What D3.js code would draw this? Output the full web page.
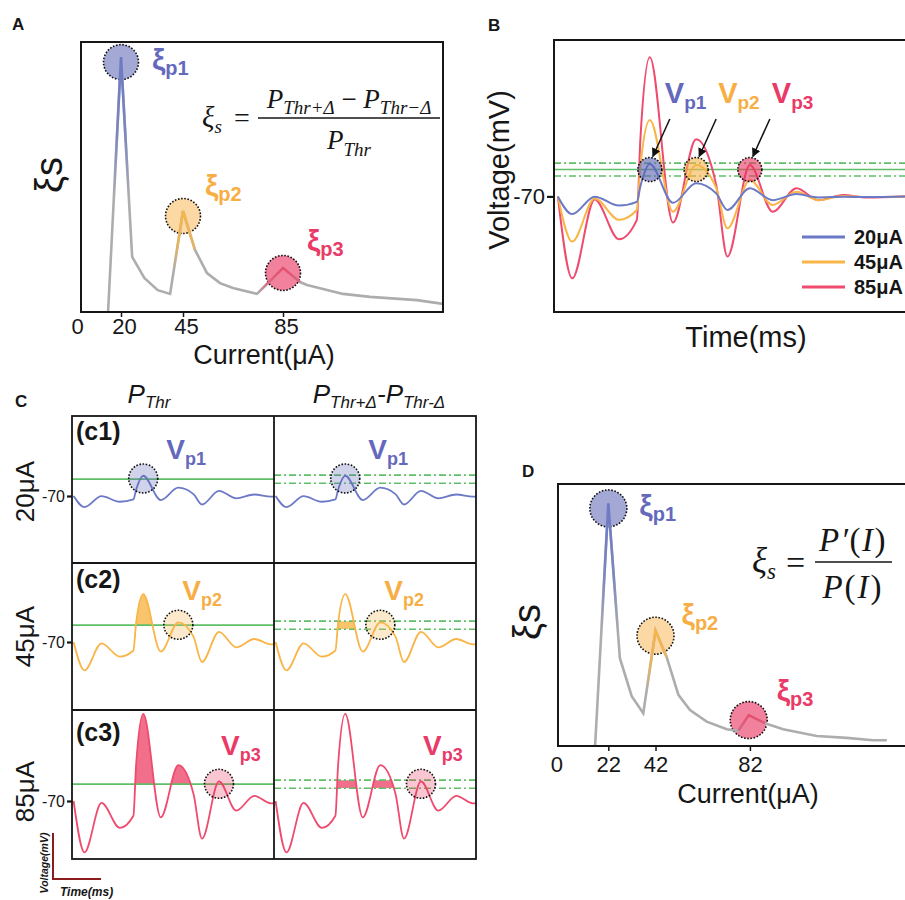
<!DOCTYPE html>
<html><head><meta charset="utf-8">
<script src="https://cdn.jsdelivr.net/npm/d3@7"></script>
<style>body{margin:0;background:#fff}svg{display:block}</style>
</head><body><svg id="fig" width="905" height="900"></svg>
<script>
// ---------------- data ----------------
const aCurrent = [14.5,20,24.5,29.4,34.8,39.8,45,49.8,54.6,59.8,65,74.6,85,91.8,94.6,109,119.8,138.6,149];
const aXi      = [0,94.4,20.4,12.6,8.1,6.7,37.4,23,14.4,10.7,8.9,6.7,16.3,11.1,10,6.7,5.6,4.4,3];
const aPeakIdx = [1,6,12];
const aTicks   = [0,20,45,85];

const dCurrent = [16.4,22,26.9,31.9,36.8,42,46.7,51.7,56.6,63.7,72.2,77.1,81.5,88.4,96.1,110.3,123,134.3,140];
const dXi      = [0,92.6,33.5,19,12.5,44,34,19.5,13.7,9.3,6.4,5.8,11.8,8.7,6.4,3.8,3.1,2.2,2.2];
const dPeakIdx = [1,5,12];
const dTicks   = [0,22,42,82];

const bTime = [1.1,5.2,11.6,18.5,23.6,24.6,27.3,33.9,40.5,46.2,49.4,55.8,62.3,69.1,75.3,82.4,89.1,100];
const v20   = [-70,-75.2,-70.1,-72.7,-71.6,-67.1,-60.5,-71.9,-66.1,-69.1,-74,-67.6,-71.1,-69.3,-70.3,-70.1,-70.2,-70];
const v45   = [-70,-83.3,-70.6,-76.9,-74,-61.3,-47.5,-74.5,-60.8,-67.5,-79.4,-65.2,-72.5,-68.6,-71.1,-69.9,-70.2,-70];
const v85   = [-70,-94.1,-70.9,-82.6,-76.9,-53.4,-29.1,-77.7,-53.2,-66.6,-87.7,-60.8,-74.5,-67.6,-71.1,-69.6,-70.3,-70];
const seriesLabels = ["20μA","45μA","85μA"];
const peakTime = [27.3, 40.5, 55.8];   // Vp1, Vp2, Vp3
const peakNames = ["p1","p2","p3"];
const vThr = -62.1, vDelta = 1.9, restV = -70;
const cRowNames = ["(c1)","(c2)","(c3)"];

// ---------------- style ----------------
const FONT = '"Liberation Sans", Arial, sans-serif';
const SERIF = '"Liberation Serif", "Times New Roman", serif';
const traceCol = ["#6b79c6", "#f9b548", "#ee4b6e"];
const labelCol = ["#6569bd", "#f7ae45", "#e93a68"];
const circCol  = ["#5a60b2", "#f7b24a", "#e8345f"];
const GRAY = "#adadad", GREEN = "#5fbf66", INK = "#161616";
const DASHDOT = "7,3,2,3";
const plainFmt = d => String(d);

const svg = d3.select("#fig");
const defs = svg.append("defs");

function subText(g, x, y, parts, o) {
  const t = g.append("text").attr("x", x).attr("y", y)
    .attr("fill", o.fill || INK).attr("font-family", o.family || FONT)
    .attr("font-weight", o.weight || "normal").attr("font-style", o.style || "normal")
    .attr("text-anchor", o.anchor || "start");
  parts.forEach(p => {
    const s = t.append("tspan").text(p.t).style("font-size", p.size + "px");
    if (p.dy) s.attr("dy", p.dy);
    if (p.fs) s.attr("font-style", p.fs);
  });
  return t;
}
function panelLabel(x, y, s) {
  svg.append("text").attr("x", x).attr("y", y).attr("font-family", FONT)
    .attr("font-weight", "bold").style("font-size", "17px").attr("fill", INK).text(s);
}
function dottedCircle(g, cx, cy, r, col, op) {
  g.append("circle").attr("cx", cx).attr("cy", cy).attr("r", r)
    .attr("fill", col).attr("fill-opacity", op)
    .attr("stroke", "#111").attr("stroke-width", 1.6).attr("stroke-dasharray", "1.6,1.6");
}

// ---------- xi-vs-current panel (A and D) ----------
function xiPanel(opt) {
  const g = svg.append("g");
  const { x, y, cur, xi, peaks, frame, id } = opt;
  const clipId = "clip" + id;
  defs.append("clipPath").attr("id", clipId).append("rect")
    .attr("x", frame[0]).attr("y", frame[1]).attr("width", frame[2] - frame[0]).attr("height", frame[3] - frame[1]);
  const pts = cur.map((c, i) => [c, xi[i]]);
  const line = d3.line().x(d => x(d[0])).y(d => y(d[1]));
  peaks.forEach((pi, k) => dottedCircle(g, x(cur[pi]), y(xi[pi]) + 5, opt.r, circCol[k], [0.55, 0.5, 0.62][k]));
  g.append("path").datum(pts).attr("d", line).attr("fill", "none").attr("stroke", GRAY)
    .attr("stroke-width", 2.6).attr("clip-path", `url(#${clipId})`);
  peaks.forEach((pi, k) => {
    const yp = y(xi[pi]);
    const gid = `grad${id}${k}`;
    const gr = defs.append("linearGradient").attr("id", gid).attr("gradientUnits", "userSpaceOnUse")
      .attr("x1", 0).attr("x2", 0).attr("y1", yp).attr("y2", yp + opt.fade[k]);
    gr.append("stop").attr("offset", 0).attr("stop-color", traceCol[k]).attr("stop-opacity", 1);
    gr.append("stop").attr("offset", 0.55).attr("stop-color", traceCol[k]).attr("stop-opacity", 0.75);
    gr.append("stop").attr("offset", 1).attr("stop-color", traceCol[k]).attr("stop-opacity", 0);
    g.append("path").datum(pts.slice(pi - 1, pi + 2)).attr("d", line).attr("fill", "none")
      .attr("stroke", `url(#${gid})`).attr("stroke-width", 2.6).attr("clip-path", `url(#${clipId})`);
    subText(g, x(cur[pi]) + opt.lab[k][0], yp + opt.lab[k][1],
      [{ t: "ξ", size: 30 }, { t: peakNames[k], size: 20, dy: 5 }], { fill: labelCol[k], weight: "bold" });
  });
  const ax = g.append("g").attr("transform", `translate(0,${frame[3]})`)
    .call(d3.axisBottom(x).tickValues(opt.ticks).tickFormat(plainFmt).tickSize(5).tickPadding(opt.tickPad));
  ax.select(".domain").remove();
  ax.selectAll(".tick line").attr("stroke", INK).attr("stroke-width", 1.5)
    .filter(d => d === 0).remove();
  ax.selectAll(".tick text").attr("font-family", FONT).style("font-size", "22px").attr("fill", INK)
    .attr("dx", opt.tickDx);
  g.append("rect").attr("x", frame[0]).attr("y", frame[1]).attr("width", frame[2] - frame[0])
    .attr("height", frame[3] - frame[1]).attr("fill", "none").attr("stroke", INK).attr("stroke-width", 2);
  g.append("text").attr("x", opt.xlab[0]).attr("y", opt.xlab[1]).attr("text-anchor", "middle")
    .attr("font-family", FONT).style("font-size", "27px").attr("fill", INK).text("Current(μA)");
  g.append("text").attr("transform", `translate(${opt.ylab[0]},${opt.ylab[1]}) rotate(-90)`)
    .attr("text-anchor", "middle").attr("font-family", FONT).style("font-size", "38px").attr("fill", INK).text("ξs");
  return g;
}

// ---------------- Panel A ----------------
panelLabel(12, 30, "A");
const xA = d3.scaleLinear().domain(aTicks).range([74, 121, 183, 283]);
const yA = d3.scaleLinear().domain([0, 100]).range([312, 42]);
const gA = xiPanel({ id: "A", x: xA, y: yA, cur: aCurrent, xi: aXi, peaks: aPeakIdx, frame: [81, 42, 443, 312],
  r: 17.5, fade: [140, 60, 25], lab: [[31, 13], [22, -15], [24, -17]], ticks: aTicks, tickPad: 1.5, tickDx: 3,
  xlab: [264, 364], ylab: [62, 175] });
subText(gA, 202, 127, [{ t: "ξ", size: 29 }, { t: "s", size: 19, dy: 6 }], { family: SERIF, style: "italic" });
gA.append("text").attr("x", 234).attr("y", 127).attr("font-family", SERIF).style("font-size", "28px").attr("fill", INK).text("=");
gA.append("line").attr("x1", 258).attr("x2", 440).attr("y1", 118).attr("y2", 118).attr("stroke", INK).attr("stroke-width", 1.3);
subText(gA, 349, 108, [{ t: "P", size: 27 }, { t: "Thr+Δ", size: 19, dy: 6 }, { t: " − ", size: 27, dy: -6, fs: "normal" },
  { t: "P", size: 27 }, { t: "Thr−Δ", size: 19, dy: 6 }], { family: SERIF, style: "italic", anchor: "middle" });
subText(gA, 349, 149, [{ t: "P", size: 27 }, { t: "Thr", size: 19, dy: 7 }], { family: SERIF, style: "italic", anchor: "middle" });

// ---------------- Panel D ----------------
panelLabel(522, 477, "D");
const xD = d3.scaleLinear().domain([0, 82]).range([556.4, 556.4 + 82 * 2.36]);
const yD = d3.scaleLinear().domain([0, 100]).range([746, 484]);
const gD = xiPanel({ id: "D", x: xD, y: yD, cur: dCurrent, xi: dXi, peaks: dPeakIdx, frame: [558, 484, 915, 746],
  r: 18.5, fade: [130, 60, 25], lab: [[31, 13], [26, -6], [28, -14]], ticks: dTicks, tickPad: 5, tickDx: 0,
  xlab: [748, 803], ylab: [540, 622] });
subText(gD, 752, 572, [{ t: "ξ", size: 35 }, { t: "s", size: 23, dy: 7 }], { family: SERIF, style: "italic" });
gD.append("text").attr("x", 786).attr("y", 574).attr("font-family", SERIF).style("font-size", "34px").attr("fill", INK).text("=");
gD.append("line").attr("x1", 815).attr("x2", 892).attr("y1", 562).attr("y2", 562).attr("stroke", INK).attr("stroke-width", 1.3);
subText(gD, 853, 551, [{ t: "P′", size: 33 }, { t: "(", size: 33, fs: "normal" }, { t: "I", size: 33 }, { t: ")", size: 33, fs: "normal" }],
  { family: SERIF, style: "italic", anchor: "middle" }).attr("letter-spacing", 1.5);
subText(gD, 853, 598, [{ t: "P", size: 33 }, { t: "(", size: 33, fs: "normal" }, { t: "I", size: 33 }, { t: ")", size: 33, fs: "normal" }],
  { family: SERIF, style: "italic", anchor: "middle" }).attr("letter-spacing", 2);

// ---------------- Panel B ----------------
panelLabel(488, 31, "B");
const gB = svg.append("g");
const xB = d3.scaleLinear().domain([0, 100]).range([554, 905]);
const yB = d3.scaleLinear().domain([-104, -24]).range([312, 40]);
defs.append("clipPath").attr("id", "clipB").append("rect").attr("x", 554).attr("y", 40).attr("width", 360).attr("height", 272);
const allV = [v20, v45, v85];
[[vThr + vDelta, DASHDOT], [vThr, null], [vThr - vDelta, DASHDOT]].forEach(([v, da]) => {
  gB.append("line").attr("x1", 554).attr("x2", 905).attr("y1", yB(v)).attr("y2", yB(v))
    .attr("stroke", GREEN).attr("stroke-width", 1.6).attr("stroke-dasharray", da);
});
const lineB = d3.line().x((d, i) => xB(bTime[i])).y(d => yB(d)).curve(d3.curveMonotoneX);
[2, 1, 0].forEach(k => {
  gB.append("path").datum(allV[k]).attr("d", lineB).attr("fill", "none").attr("stroke", traceCol[k])
    .attr("stroke-width", 2).attr("clip-path", "url(#clipB)");
});
defs.append("marker").attr("id", "arr").attr("viewBox", "0 0 10 10").attr("refX", 9).attr("refY", 5)
  .attr("markerWidth", 6).attr("markerHeight", 6).attr("orient", "auto")
  .append("path").attr("d", "M0,0 L10,5 L0,10 Z").attr("fill", "#111");
peakTime.forEach((t, k) => {
  const cx = xB(t), cy = yB(vThr);
  dottedCircle(gB, cx, cy, 12, circCol[k], 0.6);
  const lx = cx + [15, 22, 22][k];
  subText(gB, lx, 103, [{ t: "V", size: 29 }, { t: peakNames[k], size: 19, dy: 6 }], { fill: labelCol[k], weight: "bold" });
  gB.append("line").attr("x1", cx + 20).attr("y1", 119).attr("x2", cx + 3).attr("y2", cy - 13)
    .attr("stroke", "#111").attr("stroke-width", 1.5).attr("marker-end", "url(#arr)");
});
seriesLabels.forEach((s, k) => {
  const ly = 237 + k * 25;
  gB.append("line").attr("x1", 802).attr("x2", 845).attr("y1", ly).attr("y2", ly).attr("stroke", traceCol[k]).attr("stroke-width", 2.8);
  gB.append("text").attr("x", 854).attr("y", ly + 7).attr("font-family", FONT).attr("font-weight", "bold")
    .style("font-size", "20px").attr("fill", INK).text(s);
});
const axB = gB.append("g").attr("transform", "translate(554,0)")
  .call(d3.axisLeft(yB).tickValues([restV]).tickFormat(plainFmt).tickSize(7).tickPadding(2));
axB.select(".domain").remove();
axB.selectAll(".tick line").attr("stroke", INK).attr("stroke-width", 2.2);
axB.selectAll(".tick text").attr("font-family", FONT).style("font-size", "22px").attr("fill", INK);
gB.append("rect").attr("x", 554).attr("y", 40).attr("width", 380).attr("height", 272).attr("fill", "none")
  .attr("stroke", INK).attr("stroke-width", 2);
gB.append("text").attr("transform", "translate(509,170) rotate(-90)").attr("text-anchor", "middle")
  .attr("font-family", FONT).style("font-size", "29px").attr("fill", INK).text("Voltage(mV)");
gB.append("text").attr("x", 746).attr("y", 347).attr("text-anchor", "middle")
  .attr("font-family", FONT).style("font-size", "29px").attr("fill", INK).text("Time(ms)");

// ---------------- Panel C ----------------
panelLabel(15, 407, "C");
const gC = svg.append("g");
const cCols = [72, 274, 476];
const cRows = [416, 563, 710, 859];
const cBase = [496, 642, 801];
const cPx = 2.13;
const cLabDx = [23, 4, 2], cLabDy = [43, 37, 45];
subText(gC, 149, 403, [{ t: "P", size: 26 }, { t: "Thr", size: 17, dy: 5 }], { style: "italic", anchor: "middle" });
subText(gC, 379, 403, [{ t: "P", size: 26 }, { t: "Thr+Δ", size: 17, dy: 5 }, { t: "-", size: 26, dy: -5 },
  { t: "P", size: 26 }, { t: "Thr-Δ", size: 17, dy: 5 }], { style: "italic", anchor: "middle" });
for (let r = 0; r < 3; r++) {
  const vals = allV[r];
  const top = cRows[r], bot = cRows[r + 1];
  const yC = d3.scaleLinear().domain([restV, restV + 10]).range([cBase[r], cBase[r] - 10 * cPx]);
  const pV = vals[bTime.indexOf(peakTime[r])];
  for (let c = 0; c < 2; c++) {
    const x0 = cCols[c], x1 = cCols[c + 1];
    const xC = d3.scaleLinear().domain([0.5, 76.5]).range([x0, x1]);
    const cid = `cc${r}${c}`;
    defs.append("clipPath").attr("id", cid).append("rect").attr("x", x0).attr("y", top).attr("width", x1 - x0).attr("height", bot - top);
    const g = gC.append("g").attr("clip-path", `url(#${cid})`);
    const lineC = d3.line().x((d, i) => xC(bTime[i])).y(d => yC(d)).curve(d3.curveMonotoneX);
    const base = c === 0 ? vThr : vThr - vDelta;
    const capTop = c === 0 ? top : yC(vThr + vDelta);
    const fid = `cf${r}${c}`;
    defs.append("clipPath").attr("id", fid).append("rect").attr("x", xC(20)).attr("y", capTop)
      .attr("width", Math.max(0, xC(peakTime[r] - 6) - xC(20))).attr("height", yC(base) - capTop);
    const areaC = d3.area().x((d, i) => xC(bTime[i])).y0(yC(base)).y1(d => yC(d)).curve(d3.curveMonotoneX);
    g.append("g").attr("clip-path", `url(#${fid})`).append("path").datum(vals).attr("d", areaC)
      .attr("fill", traceCol[r]).attr("fill-opacity", 0.8);
    if (c === 0) {
      g.append("line").attr("x1", x0).attr("x2", x1).attr("y1", yC(vThr)).attr("y2", yC(vThr))
        .attr("stroke", GREEN).attr("stroke-width", 1.6);
    } else {
      [vThr + vDelta, vThr - vDelta].forEach(v => g.append("line").attr("x1", x0).attr("x2", x1)
        .attr("y1", yC(v)).attr("y2", yC(v)).attr("stroke", GREEN).attr("stroke-width", 1.6).attr("stroke-dasharray", DASHDOT));
    }
    g.append("path").datum(vals).attr("d", lineC).attr("fill", "none").attr("stroke", traceCol[r]).attr("stroke-width", 1.8);
    const ccx = xC(peakTime[r]), ccy = (yC(pV) + yC(vThr)) / 2 + 1;
    dottedCircle(gC, ccx, ccy, 14.5, circCol[r], 0.28);
    subText(gC, ccx + cLabDx[r], top + cLabDy[r], [{ t: "V", size: 28 }, { t: peakNames[r], size: 18, dy: 6 }],
      { fill: labelCol[r], weight: "bold" });
  }
  gC.append("text").attr("x", 76).attr("y", top + [24, 25, 31][r]).attr("font-family", FONT).attr("font-weight", "bold")
    .style("font-size", "25px").attr("fill", INK).text(cRowNames[r]);
  gC.append("text").attr("transform", `translate(34,${(top + bot) / 2 + [2, 0, 7][r]}) rotate(-90)`).attr("text-anchor", "middle")
    .attr("font-family", FONT).style("font-size", "26px").attr("fill", INK).text(seriesLabels[r]);
  const axC = gC.append("g").attr("transform", "translate(72,0)")
    .call(d3.axisLeft(yC).tickValues([restV]).tickFormat(plainFmt).tickSize(5).tickPadding(2));
  axC.select(".domain").remove();
  axC.selectAll(".tick line").attr("stroke", INK).attr("stroke-width", 2.2);
  axC.selectAll(".tick text").attr("font-family", FONT).style("font-size", "16px").attr("fill", INK);
}
gC.append("rect").attr("x", 72).attr("y", 416).attr("width", 404).attr("height", 443).attr("fill", "none").attr("stroke", INK).attr("stroke-width", 1.8);
gC.append("line").attr("x1", 274).attr("x2", 274).attr("y1", 416).attr("y2", 859).attr("stroke", INK).attr("stroke-width", 1.8);
[563, 710].forEach(yy => gC.append("line").attr("x1", 72).attr("x2", 476).attr("y1", yy).attr("y2", yy).attr("stroke", INK).attr("stroke-width", 1.8));
gC.append("path").attr("d", "M53,833 L53,879 L101,879").attr("fill", "none").attr("stroke", "#8b1c1c").attr("stroke-width", 2);
gC.append("text").attr("transform", "translate(48,863) rotate(-90)").attr("text-anchor", "middle").attr("font-family", FONT)
  .attr("font-weight", "bold").attr("font-style", "italic").style("font-size", "10.5px").attr("fill", INK).text("Voltage(mV)");
gC.append("text").attr("x", 60).attr("y", 896).attr("font-family", FONT).attr("font-weight", "bold").attr("font-style", "italic")
  .style("font-size", "12px").attr("fill", INK).text("Time(ms)");
</script></body></html>
